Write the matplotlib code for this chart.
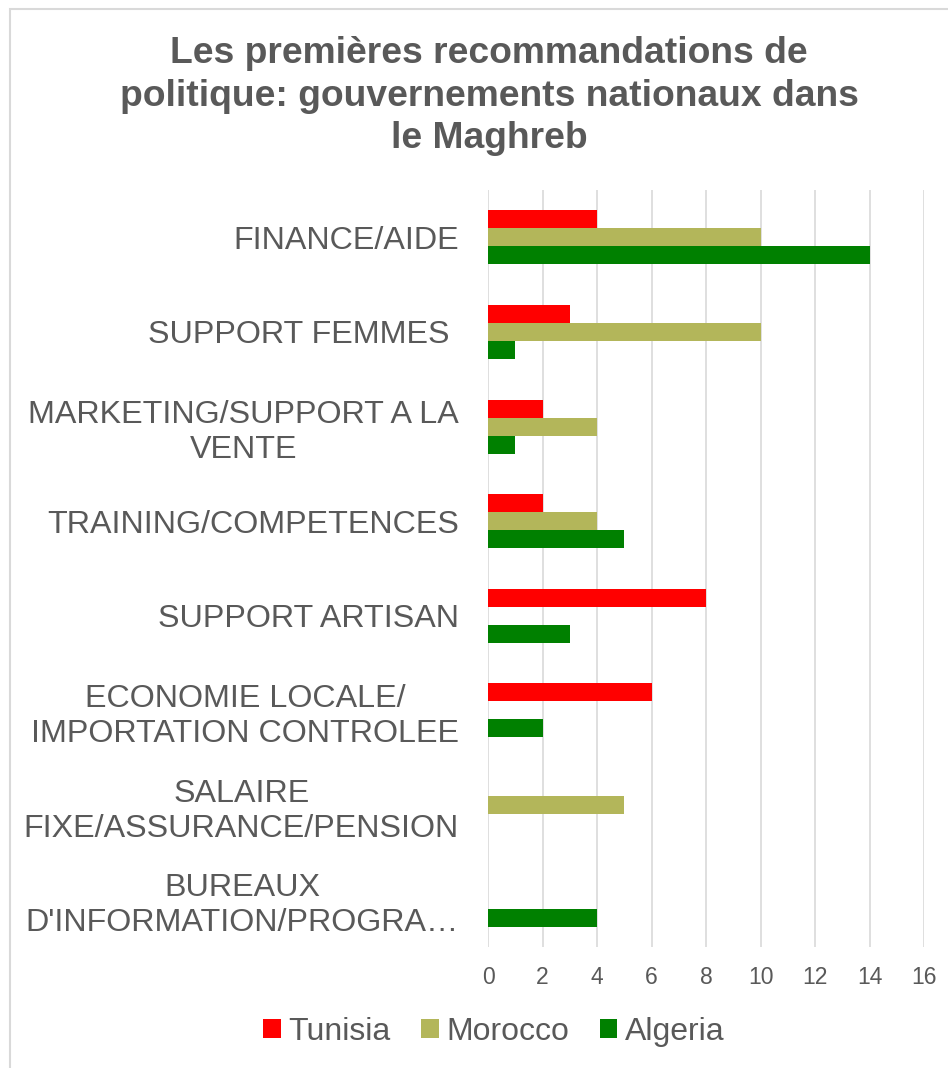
import numpy as np
import matplotlib
matplotlib.use("Agg")
import matplotlib.pyplot as plt
from matplotlib.patches import Rectangle

plt.rcParams['font.family'] = ['Liberation Sans', 'DejaVu Sans']

categories = ['FINANCE/AIDE', 'SUPPORT FEMMES ', 'MARKETING/SUPPORT A LA\nVENTE',
              'TRAINING/COMPETENCES', 'SUPPORT ARTISAN',
              'ECONOMIE LOCALE/\nIMPORTATION CONTROLEE',
              'SALAIRE\nFIXE/ASSURANCE/PENSION',
              "BUREAUX\nD'INFORMATION/PROGRA\u2026"]
tunisia = [4, 3, 2, 2, 8, 6, 0, 0]
morocco = [10, 10, 4, 4, 0, 0, 5, 0]
algeria = [14, 1, 1, 5, 3, 2, 0, 4]
series_names = ['Tunisia', 'Morocco', 'Algeria']
colors = ['#FF0000', '#B3B65A', '#008000']
xticks = [0, 2, 4, 6, 8, 10, 12, 14, 16]

txt = '#595959'
fig = plt.figure(figsize=(9.48, 10.68), dpi=100)
fig.patches.append(Rectangle((10 / 948, -0.1), 1.2, 1 - 9 / 1068 + 0.1,
                             transform=fig.transFigure, fill=False,
                             edgecolor='#D9D9D9', linewidth=1.5))

ax = fig.add_axes([488 / 948, 1 - 947 / 1068, 436 / 948, 757 / 1068])
y = np.arange(len(categories))
h = 0.19
for k, (vals, name, c) in enumerate(zip([tunisia, morocco, algeria], series_names, colors)):
    ax.barh(y + (k - 1) * h, vals, height=h, color=c, label=name, zorder=3)

ax.set_ylim(len(categories) - 0.5, -0.5)
ax.set_xlim(0, 16)
ax.set_xticks(xticks)
ax.set_yticks(y)
ax.set_yticklabels(categories, fontsize=23.2, color=txt, multialignment='center',
                   linespacing=1.22)
ax.tick_params(axis='y', length=0, pad=21)
ax.tick_params(axis='x', length=0, pad=14, labelsize=16.5, labelcolor=txt)
ax.grid(axis='x', color='#D9D9D9', linewidth=1.2, zorder=0)
for s in ax.spines.values():
    s.set_visible(False)

fig.text(489 / 948, 1 - 96 / 1068,
         'Les premières recommandations de\npolitique: gouvernements nationaux dans\nle Maghreb',
         ha='center', va='center', fontsize=26.8, fontweight='bold', color=txt,
         linespacing=1.27)

fig.legend(loc='center', bbox_to_anchor=(494 / 948, 1 - 1032 / 1068), ncol=3,
           frameon=False, fontsize=23, labelcolor=txt, handlelength=0.55,
           handleheight=0.55, handletextpad=0.25, columnspacing=0.95)

fig.savefig('out.png', dpi=100, facecolor='white')
